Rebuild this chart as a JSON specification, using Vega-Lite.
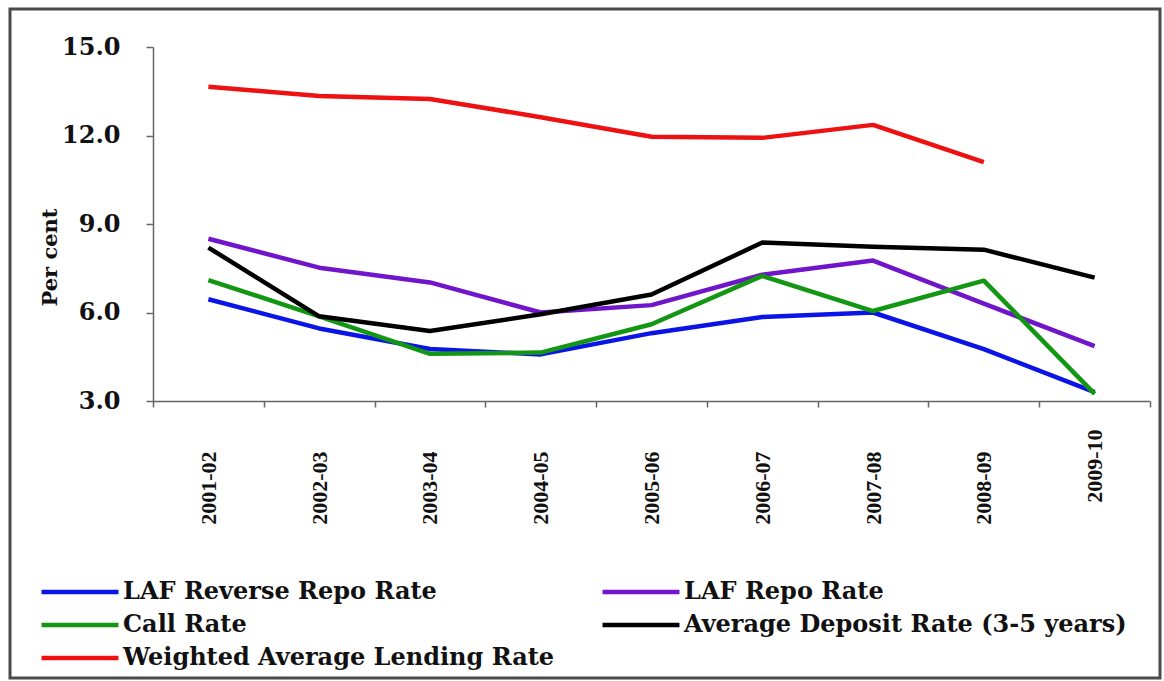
{
  "$schema": "https://vega.github.io/schema/vega-lite/v6.json",
  "width": 1150,
  "height": 669,
  "autosize": {"type": "none"},
  "padding": {"left": 10, "top": 9, "right": 4, "bottom": 3},
  "background": "#ffffff",
  "config": {
    "view": {"stroke": "#4a4a4a", "strokeWidth": 3},
    "font": "DejaVu Serif"
  },
  "data": {
    "values": [
      {"year": "2001-02", "series": "LAF Reverse Repo Rate", "value": 6.45},
      {"year": "2002-03", "series": "LAF Reverse Repo Rate", "value": 5.46},
      {"year": "2003-04", "series": "LAF Reverse Repo Rate", "value": 4.76},
      {"year": "2004-05", "series": "LAF Reverse Repo Rate", "value": 4.58},
      {"year": "2005-06", "series": "LAF Reverse Repo Rate", "value": 5.3},
      {"year": "2006-07", "series": "LAF Reverse Repo Rate", "value": 5.85},
      {"year": "2007-08", "series": "LAF Reverse Repo Rate", "value": 6.0},
      {"year": "2008-09", "series": "LAF Reverse Repo Rate", "value": 4.76},
      {"year": "2009-10", "series": "LAF Reverse Repo Rate", "value": 3.3},
      {"year": "2001-02", "series": "LAF Repo Rate", "value": 8.5},
      {"year": "2002-03", "series": "LAF Repo Rate", "value": 7.52},
      {"year": "2003-04", "series": "LAF Repo Rate", "value": 7.02},
      {"year": "2004-05", "series": "LAF Repo Rate", "value": 6.0},
      {"year": "2005-06", "series": "LAF Repo Rate", "value": 6.25},
      {"year": "2006-07", "series": "LAF Repo Rate", "value": 7.28},
      {"year": "2007-08", "series": "LAF Repo Rate", "value": 7.76},
      {"year": "2008-09", "series": "LAF Repo Rate", "value": 6.3},
      {"year": "2009-10", "series": "LAF Repo Rate", "value": 4.86},
      {"year": "2001-02", "series": "Call Rate", "value": 7.1},
      {"year": "2002-03", "series": "Call Rate", "value": 5.87},
      {"year": "2003-04", "series": "Call Rate", "value": 4.6},
      {"year": "2004-05", "series": "Call Rate", "value": 4.64},
      {"year": "2005-06", "series": "Call Rate", "value": 5.6},
      {"year": "2006-07", "series": "Call Rate", "value": 7.24},
      {"year": "2007-08", "series": "Call Rate", "value": 6.05},
      {"year": "2008-09", "series": "Call Rate", "value": 7.08},
      {"year": "2009-10", "series": "Call Rate", "value": 3.24},
      {"year": "2001-02", "series": "Average Deposit Rate (3-5 years)", "value": 8.2},
      {"year": "2002-03", "series": "Average Deposit Rate (3-5 years)", "value": 5.87},
      {"year": "2003-04", "series": "Average Deposit Rate (3-5 years)", "value": 5.37},
      {"year": "2004-05", "series": "Average Deposit Rate (3-5 years)", "value": 5.94},
      {"year": "2005-06", "series": "Average Deposit Rate (3-5 years)", "value": 6.61},
      {"year": "2006-07", "series": "Average Deposit Rate (3-5 years)", "value": 8.37},
      {"year": "2007-08", "series": "Average Deposit Rate (3-5 years)", "value": 8.23},
      {"year": "2008-09", "series": "Average Deposit Rate (3-5 years)", "value": 8.13},
      {"year": "2009-10", "series": "Average Deposit Rate (3-5 years)", "value": 7.18},
      {"year": "2001-02", "series": "Weighted Average Lending Rate", "value": 13.65},
      {"year": "2002-03", "series": "Weighted Average Lending Rate", "value": 13.34},
      {"year": "2003-04", "series": "Weighted Average Lending Rate", "value": 13.24},
      {"year": "2004-05", "series": "Weighted Average Lending Rate", "value": 12.62},
      {"year": "2005-06", "series": "Weighted Average Lending Rate", "value": 11.96},
      {"year": "2006-07", "series": "Weighted Average Lending Rate", "value": 11.92},
      {"year": "2007-08", "series": "Weighted Average Lending Rate", "value": 12.36},
      {"year": "2008-09", "series": "Weighted Average Lending Rate", "value": 11.1}
    ]
  },
  "mark": {"type": "line", "strokeWidth": 4.5, "strokeJoin": "round"},
  "encoding": {
    "x": {
      "field": "year",
      "type": "ordinal",
      "bandPosition": 0.5,
      "scale": {"type": "band", "range": [143, 1140], "paddingInner": 0, "paddingOuter": 0},
      "axis": {
        "title": null,
        "orient": "bottom",
        "offset": -277,
        "tickBand": "extent",
        "labelAngle": -90,
        "labelFont": "Liberation Serif",
        "labelFontSize": 22,
        "labelFontWeight": "bold",
        "labelColor": "#111111",
        "labelPadding": {"condition": {"test": "datum.value === '2009-10'", "value": 22}, "value": 44},
        "tickSize": 6,
        "tickColor": "#666666",
        "tickWidth": 1.5,
        "domainColor": "#666666",
        "domainWidth": 1.5,
        "grid": false
      }
    },
    "y": {
      "field": "value",
      "type": "quantitative",
      "scale": {"domain": [3, 15], "range": [392, 38], "nice": false, "zero": false},
      "axis": {
        "title": "Per cent",
        "orient": "left",
        "offset": -143,
        "values": [3, 6, 9, 12, 15],
        "format": ".1f",
        "labelFont": "DejaVu Serif",
        "labelFontSize": 24,
        "labelFontWeight": "bold",
        "labelColor": "#111111",
        "labelPadding": 26,
        "tickSize": 7,
        "tickColor": "#666666",
        "tickWidth": 1.5,
        "domainColor": "#666666",
        "domainWidth": 1.5,
        "titleFont": "DejaVu Serif",
        "titleFontSize": 21,
        "titleFontWeight": "bold",
        "titleColor": "#111111",
        "titlePadding": 1,
        "titleY": 248,
        "grid": false
      }
    },
    "color": {
      "field": "series",
      "type": "nominal",
      "scale": {
        "domain": ["LAF Reverse Repo Rate", "LAF Repo Rate", "Call Rate", "Average Deposit Rate (3-5 years)", "Weighted Average Lending Rate"],
        "range": ["#0a14e6", "#7015c9", "#139613", "#000000", "#ee1111"]
      },
      "legend": {
        "title": null,
        "orient": "none",
        "direction": "horizontal",
        "legendX": 58,
        "legendY": 571,
        "columns": 2,
        "padding": 0,
        "symbolType": "M-4,0H4",
        "symbolSize": 370,
        "symbolStrokeWidth": 4.5,
        "labelFont": "DejaVu Serif",
        "labelFontSize": 24,
        "labelFontWeight": "bold",
        "labelColor": "#111111",
        "labelLimit": 0,
        "labelOffset": 31,
        "rowPadding": 9,
        "columnPadding": 38
      }
    }
  }
}
